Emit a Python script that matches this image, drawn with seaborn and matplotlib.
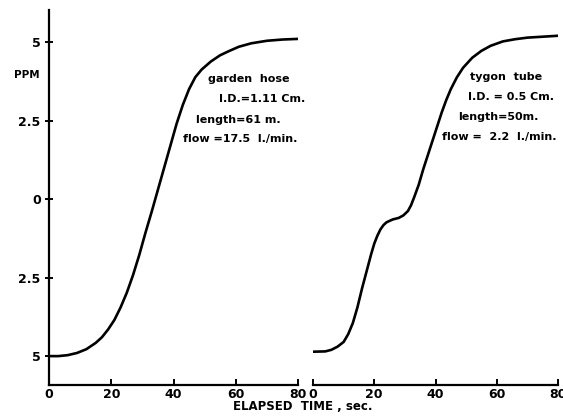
import matplotlib
matplotlib.use("Agg")
import matplotlib.pyplot as plt
import seaborn as sns
import pandas as pd

# Data
hose_t = [0, 3, 6, 9, 12, 15, 17, 19, 21, 23, 25, 27, 29, 31, 33, 35, 37, 39, 41, 43,
          45, 47, 49, 52, 55, 58, 61, 65, 70, 75, 80]
hose_ppm = [-5.0, -5.0, -4.97, -4.9, -4.78, -4.58, -4.4, -4.15, -3.85, -3.45, -2.98,
            -2.42, -1.78, -1.07, -0.4, 0.3, 1.0, 1.7, 2.4, 3.0, 3.5, 3.88, 4.12, 4.38,
            4.58, 4.72, 4.85, 4.96, 5.04, 5.08, 5.1]
tygon_t = [0, 4, 6, 8, 10, 11.5, 13, 14.5, 16, 17.5, 19, 20, 21, 22, 23, 24, 26, 28,
           29.5, 31, 32, 33, 34.5, 36, 37.5, 39, 40.5, 42, 43.5, 45, 47, 49, 52, 55, 58,
           62, 66, 70, 75, 80]
tygon_ppm = [-4.86, -4.85, -4.8, -4.7, -4.55, -4.3, -3.95, -3.45, -2.85, -2.3, -1.75,
             -1.42, -1.17, -0.97, -0.83, -0.74, -0.65, -0.6, -0.52, -0.38, -0.2, 0.05,
             0.45, 0.95, 1.4, 1.85, 2.3, 2.75, 3.15, 3.5, 3.88, 4.18, 4.5, 4.72, 4.88,
             5.02, 5.09, 5.14, 5.17, 5.2]
y_ticks = [5, 2.5, 0, -2.5, -5]
y_tick_labels = ["5", "2.5", "0", "2.5", "5"]
x_ticks = [0, 20, 40, 60, 80]
x_tick_labels = ["0", "20", "40", "60", "80"]
hose_lines = ["garden  hose", "I.D.=1.11 Cm.", "length=61 m.", "flow =17.5  l./min."]
tygon_lines = ["tygon  tube", "I.D. = 0.5 Cm.", "length=50m.", "flow =  2.2  l./min."]

sns.set_style("ticks")
plt.rcParams['font.family'] = ['DejaVu Sans']
plt.rcParams['text.color'] = 'black'
plt.rcParams['xtick.color'] = 'black'
plt.rcParams['ytick.color'] = 'black'
plt.rcParams['axes.edgecolor'] = 'black'

fig = plt.figure(figsize=(5.63, 4.16), dpi=100)
ax1 = fig.add_axes([49/563, 1-385/416, (298-49)/563, (385-10)/416])
ax2 = fig.add_axes([313/563, 1-385/416, (558-313)/563, (385-10)/416])

df1 = pd.DataFrame({"t": hose_t, "ppm": hose_ppm})
df2 = pd.DataFrame({"t": tygon_t, "ppm": tygon_ppm})
sns.lineplot(data=df1, x="t", y="ppm", ax=ax1, color="black", linewidth=1.9)
sns.lineplot(data=df2, x="t", y="ppm", ax=ax2, color="black", linewidth=1.9)

for ax in (ax1, ax2):
    ax.set_xlim(0, 80)
    ax.set_ylim(-5.92, 6.02)
    ax.set_xlabel("")
    ax.set_ylabel("")
    ax.set_xticks(x_ticks)
    ax.set_xticklabels(x_tick_labels, fontsize=9, fontweight="semibold")
    ax.tick_params(axis="x", direction="in", length=4, width=1.4, pad=2)
    for s in ("top", "right"):
        ax.spines[s].set_visible(False)
    ax.spines["bottom"].set_linewidth(1.6)
    ax.patch.set_alpha(0)

ax1.spines["left"].set_linewidth(1.6)
ax1.set_yticks(y_ticks)
ax1.set_yticklabels(y_tick_labels, fontsize=9, fontweight="semibold")
ax1.tick_params(axis="y", direction="inout", length=6, width=1.4, pad=3)
ax2.spines["left"].set_visible(False)
ax2.set_yticks([])

hose_pos = [(51.0, 3.82), (54.5, 3.18), (47.1, 2.52), (43.2, 1.91)]
tygon_pos = [(51.3, 3.89), (50.7, 3.25), (47.4, 2.61), (42.2, 1.97)]
for txt, (x, y) in zip(hose_lines, hose_pos):
    ax1.text(x, y, txt, ha="left", va="center", fontsize=8, fontweight="semibold")
for txt, (x, y) in zip(tygon_lines, tygon_pos):
    ax2.text(x, y, txt, ha="left", va="center", fontsize=8, fontweight="semibold")

fig.text(27/563, 1-75/416, "PPM", ha="center", va="center", fontsize=7.5,
         fontweight="semibold")
fig.text(303/563, 1-406/416, "ELAPSED  TIME , sec.", ha="center", va="center",
         fontsize=8.5, fontweight="semibold")

fig.savefig("out.png", dpi=100)
